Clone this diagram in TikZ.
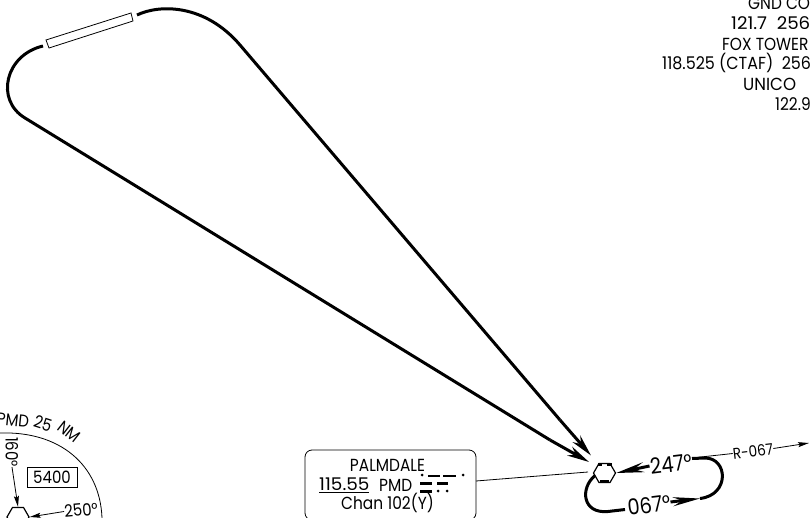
\documentclass[tikz,border=0pt]{standalone}
\usepackage{graphicx}
\usepackage{fontspec}
\setmainfont{Poppins}
\usetikzlibrary{arrows.meta,shapes.geometric}
\newcommand{\nw}[1]{\scalebox{.88}[1]{#1}}
\tikzset{
 trk/.style={line width=3pt,line join=round},
 thinl/.style={line width=0.8pt},
 txt/.style={inner sep=0pt,font=\fontsize{17.5}{20}\selectfont},
 small/.style={inner sep=0pt,font=\fontsize{15.5}{18}\selectfont},
 msa/.style={inner sep=0pt,font=\fontsize{17}{20}\selectfont},
 big/.style={inner sep=0pt,font=\fontsize{22}{24}\selectfont},
 hub/.style={regular polygon,regular polygon sides=6,draw,line width=1.2pt,minimum size=22pt,inner sep=0pt},
 arr/.style={-{Stealth[length=22pt,width=10pt,inset=7pt]}},
 sarr/.style={-{Stealth[length=11pt,width=5pt,inset=2pt]}},
}
\begin{document}
\begin{tikzpicture}[x=1pt,y=-1pt]
\useasboundingbox (0,0) rectangle (810,518);
\clip (0,0) rectangle (810,518);
% comm text
\node[txt,anchor=west] (g) at (748,3) {\nw{GND CO}};
\node[txt,anchor=west] (h) at (731,23) {\scalebox{1.04}[1]{121.7\ \ 256}};
\node[txt,anchor=west] (f) at (722,44) {\nw{FOX TOWER}};
\node[txt,anchor=west] (c) at (662,63) {\scalebox{.91}[1]{118.525 (CTAF)\ \ 256}};
\node[txt,anchor=west] (u) at (743,84) {\scalebox{.95}[1]{UNICO}};
\node[txt,anchor=west] (v) at (775,104) {\nw{122.9}};
% runway
\draw[line width=0.8pt] (46,40) -- (131,13) -- (133,21) -- (49,48) -- cycle;
% hub
\node[hub] (pmd) at (604.5,473) {};
\fill (600,479.5) rectangle (609,483);
\fill (597.5,463) rectangle (602,465.5);
\fill (607,463) rectangle (611.5,465.5);
\coordinate (pN) at (591,455.5);
\coordinate (pS) at (589,462);
\draw[trk] (137,15) .. controls (160,4) and (205,4) .. (240,45) -- (560,420);
\draw[trk] (43,46) .. controls (5,55) and (-5,100) .. (25,118) -- (550,440);
\draw[arr,line width=3pt] (560,420) -- (pN);
\draw[arr,line width=3pt] (550,440) -- (pS);
% leg labels
\node[big,rotate=7] (a247) at (671,464) {\nw{247°}};
\node[big,rotate=7] (a067) at (649,505) {\nw{067°}};
\draw[-{Stealth[length=28pt,width=10pt,inset=10pt]},line width=3pt] (649.5,466) -- (pmd.east);
\draw[trk] (692,458.5) -- (705,458) .. controls (728,458) and (730,495) .. (700,498.5);
\draw[-{Stealth[length=27pt,width=9pt,inset=9pt]},line width=3pt] (670.5,502) -- (700,498.5);
\draw[trk] (595,475.5) .. controls (580,488) and (582,514) .. (608,511.5) -- (625,509.5);
% radial
\node[small,rotate=7] (r067) at (753,451) {\nw{R-067}};
\coordinate (rend) at (809,443);
\draw[thinl] (692,458) -- (r067.west);
\draw[thinl,sarr] (r067.east) -- (rend);
% box
\node[draw,line width=0.8pt,rounded corners=7pt,minimum width=171pt,minimum height=70pt,inner sep=0pt] (bx) at (390.5,485) {};
\node[txt] (p1) at (387.5,465) {\nw{PALMDALE}};
\node[txt,anchor=west] (p2) at (319,485) {\scalebox{1.05}[1]{\underline{115.55}}};
\node[txt,anchor=west] (p4) at (379,485) {\nw{PMD}};
\node[txt] (p3) at (387.5,503) {\nw{Chan 102(Y)}};
\coordinate (bxr) at (476,481);
\coordinate (hubl) at (588,472);
\draw[thinl] (bxr) -- (hubl);
% morse
\fill (422,475) circle (1.5);
\fill (428,474.5) rectangle (440,477);
\fill (443,474.5) rectangle (456,477);
\fill (463,475) circle (1.5);
\fill (420,482) rectangle (432,484.5);
\fill (437,482) rectangle (448,484.5);
\fill (420,490) rectangle (432,492.5);
\fill (438,491) circle (1.5);
\fill (447,491) circle (1.5);
% bottom-left
\draw[line width=0.8pt] (0,433) .. controls (60,431) and (100,465) .. (102,518);
\node[msa,rotate=-6] (m1) at (13,420) {\nw{PMD}};
\node[msa,rotate=-18] (m2) at (43,423.5) {\nw{25}};
\node[msa,rotate=-38] (m3) at (69,432) {\nw{NM}};
\node[draw,line width=0.8pt,minimum width=50pt,minimum height=20pt,inner sep=0pt,msa] (alt) at (52,477) {\nw{5400}};
\node[hub] (h2) at (18,517) {};
\node[msa,rotate=-90] (d160) at (12,452) {\nw{160°}};
\node[msa,rotate=5] (d250) at (81,510) {\nw{250°}};
\draw[thinl,sarr] (d160.east) -- (h2.north);
\draw[thinl,sarr] (d250.west) -- (h2.east);
\end{tikzpicture}
\end{document}
